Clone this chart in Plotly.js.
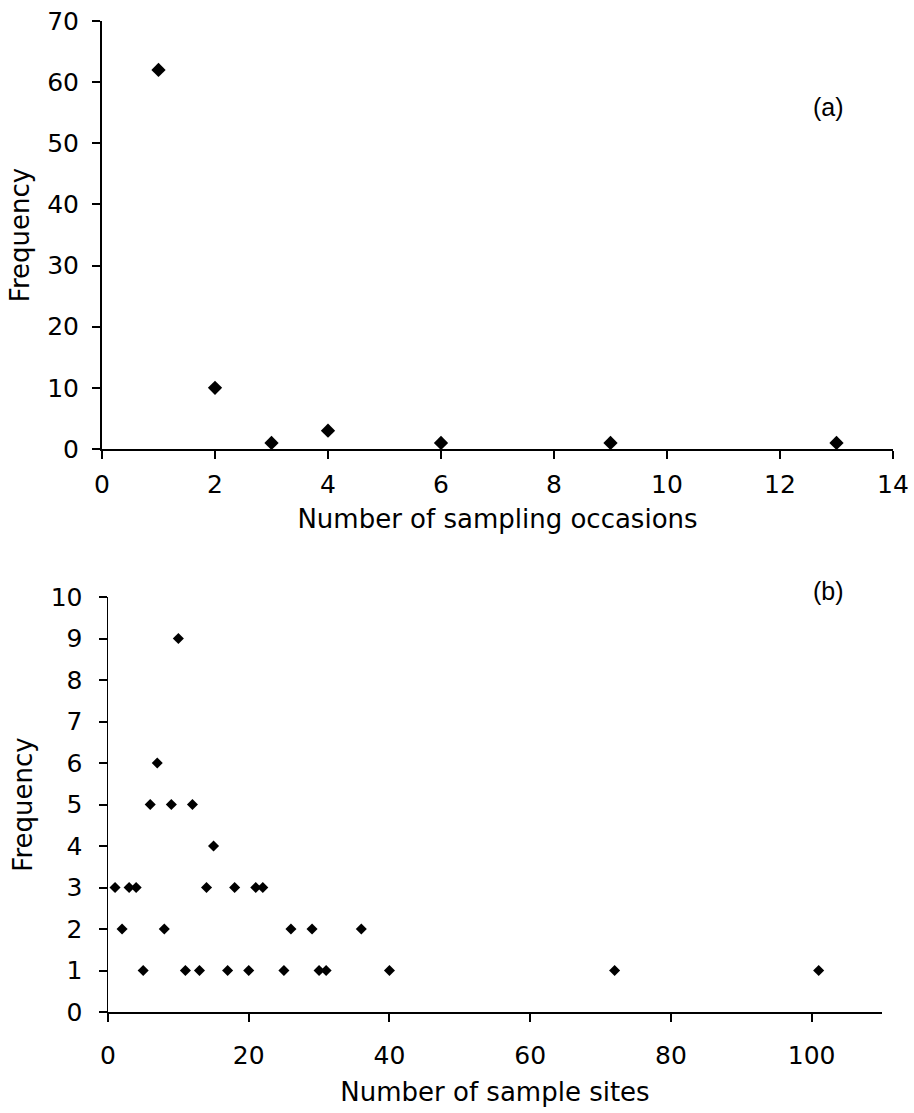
<!DOCTYPE html>
<html>
<head>
<meta charset="utf-8">
<script src="https://cdn.plot.ly/plotly-3.0.1.min.js"></script>
<style>html,body{margin:0;padding:0;background:#fff;}#chart{width:914px;height:1113px;}</style>
</head>
<body>
<div id="chart"></div>
<script>
// Panel (a): number of sampling occasions vs frequency
const occasions = [1, 2, 3, 4, 6, 9, 13];
const occasionFreq = [62, 10, 1, 3, 1, 1, 1];

// Panel (b): number of sample sites vs frequency
const sites = [1, 2, 3, 4, 5, 6, 7, 8, 9, 10, 11, 12, 13, 14, 15, 17, 18, 20, 21, 22, 25, 26, 29, 30, 31, 36, 40, 72, 101];
const siteFreq = [3, 2, 3, 3, 1, 5, 6, 2, 5, 9, 1, 5, 1, 3, 4, 1, 3, 1, 3, 3, 1, 2, 2, 1, 1, 2, 1, 1, 1];

const W = 914, H = 1113;
const tickFont = {family: 'DejaVu Sans, Verdana, sans-serif', size: 25, color: '#000'};
const titleFont = {family: 'DejaVu Sans, Verdana, sans-serif', size: 26, color: '#000'};

const traces = [
  {x: occasions, y: occasionFreq, type: 'scatter', mode: 'markers', xaxis: 'x', yaxis: 'y',
   marker: {symbol: 'diamond', size: 11, color: '#000'}, hoverinfo: 'x+y'},
  {x: sites, y: siteFreq, type: 'scatter', mode: 'markers', xaxis: 'x2', yaxis: 'y2',
   marker: {symbol: 'diamond', size: 8.5, color: '#000'}, hoverinfo: 'x+y'}
];

function ax(extra) {
  return Object.assign({
    showgrid: false, zeroline: false, showline: true, linecolor: '#000', linewidth: 2,
    ticks: 'outside', ticklen: 8, tickwidth: 2, tickcolor: '#000',
    tickfont: tickFont, fixedrange: true
  }, extra);
}

const layout = {
  width: W, height: H,
  margin: {l: 0, r: 0, t: 0, b: 0},
  paper_bgcolor: '#fff', plot_bgcolor: '#fff',
  showlegend: false,
  xaxis: ax({domain: [102/W, 893/W], range: [0, 14], dtick: 2, tick0: 0, anchor: 'y',
    ticklabelstandoff: 4,
    title: {text: 'Number of sampling occasions', font: titleFont, standoff: 12}}),
  yaxis: ax({domain: [(H-449)/H, (H-21)/H], range: [0, 70], dtick: 10, tick0: 0, anchor: 'x',
    ticklabelstandoff: 8,
    title: {text: 'Frequency', font: titleFont, standoff: 10}}),
  xaxis2: ax({domain: [108/W, 882/W], range: [0, 110], dtick: 20, tick0: 0, anchor: 'y2',
    ticklabelstandoff: 12,
    title: {text: 'Number of sample sites', font: titleFont, standoff: 14}}),
  yaxis2: ax({domain: [(H-1012)/H, (H-597)/H], range: [0, 10], dtick: 1, tick0: 0, anchor: 'x2', linewidth: 1.5,
    ticklabelstandoff: 11,
    title: {text: 'Frequency', font: titleFont, standoff: 10}}),
  annotations: [
    {text: '(a)', xref: 'paper', yref: 'paper', x: 846/W, y: (H-91)/H, showarrow: false,
     font: {family: 'Liberation Sans, Arial, sans-serif', size: 25, color: '#000'}},
    {text: '(b)', xref: 'paper', yref: 'paper', x: 846/W, y: (H-591)/H, showarrow: false,
     font: {family: 'Liberation Sans, Arial, sans-serif', size: 25, color: '#000'}}
  ]
};

Plotly.newPlot('chart', traces, layout, {displayModeBar: false, staticPlot: true});
</script>
</body>
</html>
